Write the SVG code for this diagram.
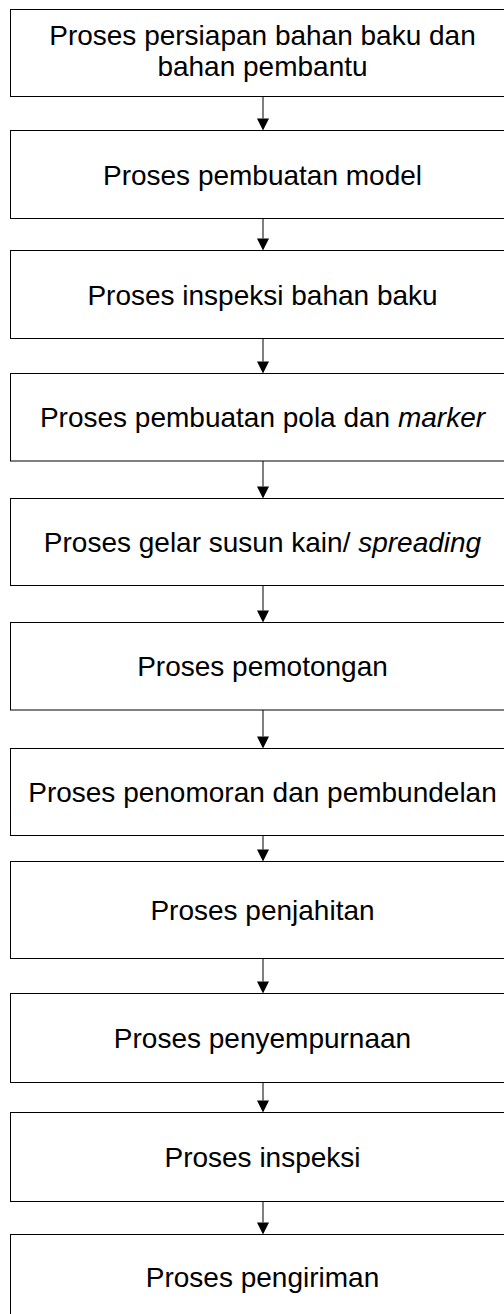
<svg xmlns="http://www.w3.org/2000/svg" width="504" height="1314" viewBox="0 0 504 1314">
  <style>
    .box { fill: #ffffff; stroke: #000000; stroke-width: 1; }
    .lbl { font-family: "Liberation Sans", Arial, sans-serif; font-size: 28px; fill: #000000; text-anchor: middle; }
    .it { font-style: italic; }
    .wire { stroke: #000000; stroke-width: 1; fill: none; }
    .head { fill: #000000; }
  </style>
  <rect x="0" y="0" width="504" height="1314" fill="#ffffff"/>

  <g id="connectors">
    <path class="wire" d="M263 96.5V118.5 M263 218.5V238.5 M263 338.5V361.5 M263 461V486.5 M263 585.5V610.5 M263 710V736.5 M263 835.5V849.5 M263 958.5V981.5 M263 1082.5V1100.5 M263 1201.5V1222.5"/>
    <polygon class="head" points="257,118.5 269,118.5 263,130.5"/>
    <polygon class="head" points="257,238.5 269,238.5 263,250.5"/>
    <polygon class="head" points="257,361.5 269,361.5 263,373.5"/>
    <polygon class="head" points="257,486.5 269,486.5 263,498.5"/>
    <polygon class="head" points="257,610.5 269,610.5 263,622.5"/>
    <polygon class="head" points="257,736.5 269,736.5 263,748.5"/>
    <polygon class="head" points="257,849.5 269,849.5 263,861.5"/>
    <polygon class="head" points="257,981.5 269,981.5 263,993.5"/>
    <polygon class="head" points="257,1100.5 269,1100.5 263,1112.5"/>
    <polygon class="head" points="257,1222.5 269,1222.5 263,1234.5"/>
  </g>

  <g id="n1">
    <rect class="box" x="10.5" y="9.5" width="506" height="87"/>
    <text class="lbl" x="262.5" y="45">Proses persiapan bahan baku dan</text>
    <text class="lbl" x="262.5" y="76">bahan pembantu</text>
  </g>
  <g id="n2">
    <rect class="box" x="10.5" y="130.5" width="506" height="88"/>
    <text class="lbl" x="262.5" y="184.5">Proses pembuatan model</text>
  </g>
  <g id="n3">
    <rect class="box" x="10.5" y="250.5" width="506" height="88"/>
    <text class="lbl" x="262.5" y="304.5">Proses inspeksi bahan baku</text>
  </g>
  <g id="n4">
    <rect class="box" x="10.5" y="373.5" width="506" height="87.5"/>
    <text class="lbl" x="262.5" y="427">Proses pembuatan pola dan <tspan class="it">marker</tspan></text>
  </g>
  <g id="n5">
    <rect class="box" x="10.5" y="498.5" width="506" height="87"/>
    <text class="lbl" x="262.5" y="552">Proses gelar susun kain/ <tspan class="it">spreading</tspan></text>
  </g>
  <g id="n6">
    <rect class="box" x="10.5" y="622.5" width="506" height="87.5"/>
    <text class="lbl" x="262.5" y="676">Proses pemotongan</text>
  </g>
  <g id="n7">
    <rect class="box" x="10.5" y="748.5" width="506" height="87"/>
    <text class="lbl" x="262.5" y="802">Proses penomoran dan pembundelan</text>
  </g>
  <g id="n8">
    <rect class="box" x="10.5" y="861.5" width="506" height="97"/>
    <text class="lbl" x="262.5" y="920">Proses penjahitan</text>
  </g>
  <g id="n9">
    <rect class="box" x="10.5" y="993.5" width="506" height="89"/>
    <text class="lbl" x="262.5" y="1048">Proses penyempurnaan</text>
  </g>
  <g id="n10">
    <rect class="box" x="10.5" y="1112.5" width="506" height="89"/>
    <text class="lbl" x="262.5" y="1167">Proses inspeksi</text>
  </g>
  <g id="n11">
    <rect class="box" x="10.5" y="1234.5" width="506" height="100"/>
    <text class="lbl" x="262.5" y="1287">Proses pengiriman</text>
  </g>
</svg>
